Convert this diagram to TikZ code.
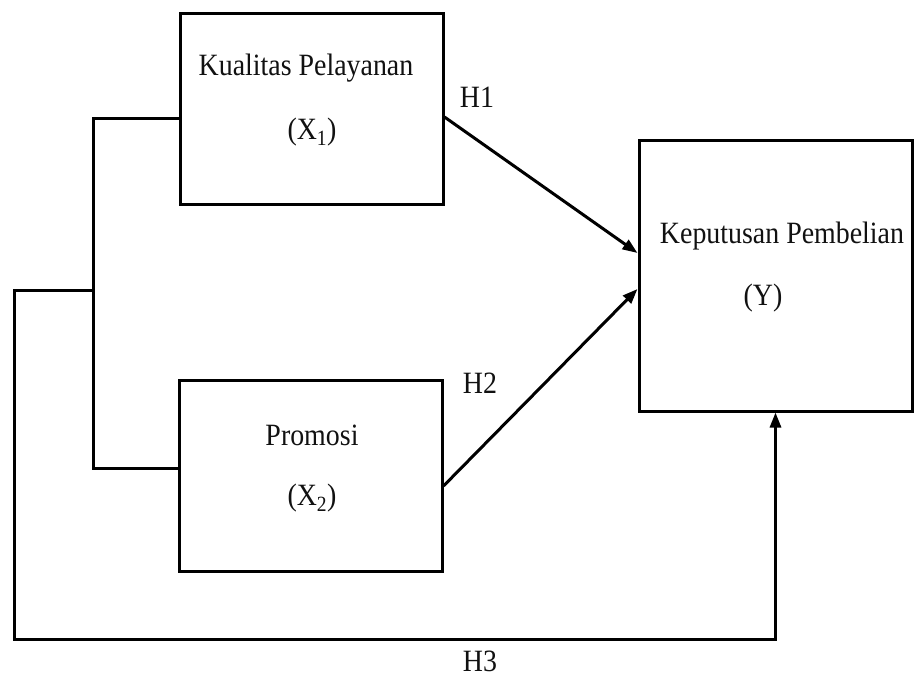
\documentclass[tikz,border=0pt]{standalone}
\usepackage{fontspec}
\setmainfont{Liberation Serif}[FakeStretch=0.9]
\usepackage{tikz}
\usetikzlibrary{calc, positioning, arrows.meta}
\definecolor{lineDark}{HTML}{000000}
\definecolor{textDark}{HTML}{111111}
\newcommand{\txtBig}{\fontsize{31}{36}\selectfont}

\begin{document}
\begin{tikzpicture}[x=1pt, y=-1pt,
    varBox/.style={draw=lineDark, line width=3pt, minimum width=263pt, minimum height=191pt, inner sep=0pt},
    varText/.style={text=textDark, inner sep=0pt, font=\txtBig},
    link/.style={draw=lineDark, line width=3pt},
    linkArrow/.style={link, -{Triangle[length=15pt, width=11pt]}}]
        \useasboundingbox (0,0) rectangle (914,678);
        % variables
        \node[varBox] (x1) at (311.5,108.5) {};
        \node[varBox] (x2) at (310.5,475.5) {};
        \node[varBox, minimum width=273pt, minimum height=271pt] (y) at (775.5,275.5) {};
        \node[varText] (x1name) at (306,68) {Kualitas Pelayanan};
        \node[varText] (x1sym) at (312,132) {(X\textsubscript{1})};
        \node[varText] (x2name) at (312,435) {Promosi};
        \node[varText] (x2sym) at (312,498) {(X\textsubscript{2})};
        \node[varText] (yname) at (782,236) {Keputusan Pembelian};
        \node[varText] (ysym) at (763,298) {(Y)};
        % hypotheses
        \node[varText] (h1) at (477,97) {H1};
        \node[varText] (h2) at (480,383) {H2};
        \node[varText] (h3) at (480,661) {H3};
        % bracket joining X1 and X2
        \coordinate (bTop) at (93,118);
        \coordinate (bBot) at (93,468);
        \coordinate (bMid) at (93,290);
        \coordinate (outerTop) at (14,290);
        \coordinate (outerBot) at (14,639);
        \coordinate (outerEnd) at (775.5,639);
        \draw[link] (x1.west |- bTop) -- (bTop) |- (x2.west |- bBot);
        \draw[linkArrow] (bMid) -- (outerTop) -- (outerBot) -- (outerEnd) -- (y.south);
        % partial effects
        \draw[linkArrow] ([yshift=-8.5pt]x1.east) -- ([yshift=22.5pt]y.west);
        \draw[linkArrow] ([yshift=-10.5pt]x2.east) -- ([yshift=-13.5pt]y.west);
\end{tikzpicture}
\end{document}
